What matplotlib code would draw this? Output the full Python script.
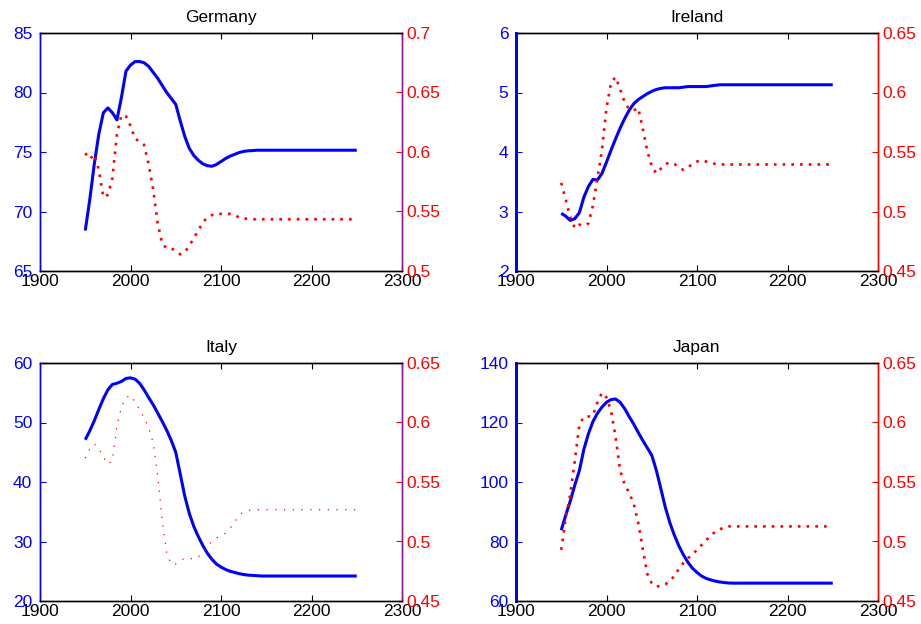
import matplotlib
matplotlib.use("Agg")
import matplotlib.pyplot as plt

plt.rcParams['font.family'] = ['Liberation Sans', 'DejaVu Sans']

years = [1950, 1955, 1960, 1965, 1970, 1975, 1980, 1985, 1990, 1995,
         2000, 2005, 2010, 2015, 2020, 2025, 2030, 2035, 2040, 2045,
         2050, 2055, 2060, 2065, 2070, 2075, 2080, 2085, 2090, 2095,
         2100, 2105, 2110, 2115, 2120, 2125, 2130, 2135, 2140, 2145,
         2150, 2200, 2250]

germany_left = [68.4, 71.0, 74.0, 76.5, 78.3, 78.7, 78.3, 77.7, 79.6, 81.8,
                82.3, 82.6, 82.6, 82.5, 82.2, 81.7, 81.2, 80.6, 80.0, 79.5,
                79.0, 77.6, 76.3, 75.3, 74.7, 74.3, 74.0, 73.85, 73.8, 73.95,
                74.2, 74.45, 74.65, 74.8, 74.95, 75.05, 75.1, 75.12, 75.15, 75.15,
                75.15, 75.15, 75.15]
germany_right = [0.599, 0.594, 0.598, 0.585, 0.562, 0.564, 0.578, 0.615, 0.631, 0.630,
                 0.622, 0.611, 0.609, 0.606, 0.590, 0.569, 0.540, 0.523, 0.519, 0.519,
                 0.517, 0.514, 0.516, 0.521, 0.528, 0.534, 0.541, 0.545, 0.547, 0.548,
                 0.548, 0.548, 0.548, 0.547, 0.545, 0.544, 0.544, 0.5435, 0.5435, 0.5435,
                 0.5435, 0.5435, 0.5435]

ireland_left = [2.97, 2.92, 2.85, 2.88, 2.98, 3.24, 3.42, 3.54, 3.53, 3.64,
                3.83, 4.03, 4.22, 4.40, 4.56, 4.70, 4.81, 4.88, 4.93, 4.98,
                5.02, 5.05, 5.07, 5.08, 5.08, 5.08, 5.08, 5.09, 5.10, 5.10,
                5.10, 5.10, 5.10, 5.11, 5.12, 5.13, 5.13, 5.13, 5.13, 5.13,
                5.13, 5.13, 5.13]
ireland_right = [0.524, 0.510, 0.495, 0.486, 0.489, 0.488, 0.490, 0.505, 0.528, 0.552,
                 0.587, 0.608, 0.613, 0.603, 0.592, 0.586, 0.585, 0.587, 0.570, 0.551,
                 0.538, 0.532, 0.536, 0.540, 0.541, 0.540, 0.537, 0.535, 0.537, 0.540,
                 0.542, 0.543, 0.542, 0.541, 0.540, 0.5395, 0.5395, 0.5395, 0.5395, 0.5395,
                 0.5395, 0.5395, 0.5395]

italy_left = [47.1, 48.6, 50.3, 52.2, 54.0, 55.5, 56.4, 56.6, 56.9, 57.4,
              57.5, 57.3, 56.6, 55.5, 54.2, 53.0, 51.6, 50.2, 48.7, 47.0,
              45.0, 41.3, 37.6, 34.7, 32.5, 30.8, 29.3, 28.0, 27.0, 26.2,
              25.7, 25.3, 25.0, 24.8, 24.6, 24.45, 24.35, 24.3, 24.25, 24.2,
              24.2, 24.2, 24.2]
italy_right = [0.570, 0.578, 0.582, 0.578, 0.571, 0.565, 0.568, 0.597, 0.613, 0.621,
               0.623, 0.617, 0.611, 0.604, 0.596, 0.583, 0.556, 0.518, 0.490, 0.481,
               0.481, 0.484, 0.486, 0.486, 0.485, 0.487, 0.491, 0.496, 0.500, 0.503,
               0.505, 0.507, 0.511, 0.516, 0.522, 0.525, 0.526, 0.5267, 0.5267, 0.5267,
               0.5267, 0.5267, 0.5267]

japan_left = [83.8, 88.9, 93.6, 99.0, 103.8, 111.0, 116.2, 120.3, 123.1, 125.2,
              126.8, 127.7, 127.9, 126.8, 124.7, 122.0, 119.5, 116.7, 114.0, 111.5,
              109.0, 104.0, 97.8, 91.5, 86.3, 82.1, 78.5, 75.5, 73.0, 71.0,
              69.6, 68.4, 67.6, 67.1, 66.7, 66.4, 66.2, 66.05, 66.0, 66.0,
              66.0, 66.0, 66.0]
japan_right = [0.493, 0.520, 0.540, 0.568, 0.598, 0.605, 0.605, 0.606, 0.617, 0.625,
               0.621, 0.610, 0.588, 0.560, 0.548, 0.541, 0.532, 0.516, 0.494, 0.473,
               0.465, 0.462, 0.463, 0.464, 0.467, 0.471, 0.477, 0.482, 0.486, 0.489,
               0.493, 0.497, 0.501, 0.505, 0.508, 0.510, 0.512, 0.5127, 0.5127, 0.5127,
               0.5127, 0.5127, 0.5127]

x_ticks = [1900, 2000, 2100, 2200, 2300]

panels = [
    dict(title="Germany", left=germany_left, right=germany_right,
         lticks=[65, 70, 75, 80, 85], rticks=[0.5, 0.55, 0.6, 0.65, 0.7],
         rlabels=["0.5", "0.55", "0.6", "0.65", "0.7"],
         pos=[40, 33], rspine="#8e1a8a", thin=False, lspine_w=1.0),
    dict(title="Ireland", left=ireland_left, right=ireland_right,
         lticks=[2, 3, 4, 5, 6], rticks=[0.45, 0.5, 0.55, 0.6, 0.65],
         rlabels=["0.45", "0.5", "0.55", "0.6", "0.65"],
         pos=[516, 33], rspine="#ff0000", thin=False, lspine_w=2.0),
    dict(title="Italy", left=italy_left, right=italy_right,
         lticks=[20, 30, 40, 50, 60], rticks=[0.45, 0.5, 0.55, 0.6, 0.65],
         rlabels=["0.45", "0.5", "0.55", "0.6", "0.65"],
         pos=[40, 363], rspine="#8e1a8a", thin=True, lspine_w=1.0),
    dict(title="Japan", left=japan_left, right=japan_right,
         lticks=[60, 80, 100, 120, 140], rticks=[0.45, 0.5, 0.55, 0.6, 0.65],
         rlabels=["0.45", "0.5", "0.55", "0.6", "0.65"],
         pos=[516, 363], rspine="#ff0000", thin=False, lspine_w=2.0),
]

W, H = 921, 624
fig = plt.figure(figsize=(W / 100, H / 100), dpi=100)
aw, ah = 362, 238
fs = 12.5

for p in panels:
    x0, y0 = p["pos"]
    ax = fig.add_axes([x0 / W, 1 - (y0 + ah) / H, aw / W, ah / H])
    ax2 = ax.twinx()
    ax.plot(years, p["left"], color="#0000ff", lw=2.2, solid_capstyle="butt")
    if p["thin"]:
        ax2.plot(years, p["right"], color="#ff0000", lw=0.9, linestyle=(0, (1, 6)))
    else:
        ax2.plot(years, p["right"], color="#ff0000", lw=1.9, linestyle=(0, (1, 2.3)))
    ax.set_xlim(1900, 2300)
    ax.set_xticks(x_ticks)
    ax.set_xticklabels([str(t) for t in x_ticks], fontsize=fs, color="black")
    ax.set_ylim(p["lticks"][0], p["lticks"][-1])
    ax.set_yticks(p["lticks"])
    ax.set_yticklabels([str(t) for t in p["lticks"]], fontsize=fs, color="#0000ff")
    ax2.set_ylim(p["rticks"][0], p["rticks"][-1])
    ax2.set_yticks(p["rticks"])
    ax2.set_yticklabels(p["rlabels"], fontsize=fs, color="#ff0000")
    ax.tick_params(axis="x", direction="in", top=True, length=4, pad=2.0, colors="black")
    ax.tick_params(axis="y", direction="in", length=4, pad=5.5, colors="#0000ff")
    ax2.tick_params(axis="y", direction="in", length=4, pad=3.5, colors="#ff0000")
    for a in (ax, ax2):
        a.spines["top"].set_color("black")
        a.spines["bottom"].set_color("black")
        a.spines["left"].set_color("#0000ff")
        a.spines["right"].set_color(p["rspine"])
        for s in a.spines.values():
            s.set_linewidth(1.0)
        a.spines["left"].set_linewidth(p["lspine_w"])
    ax.set_title(p["title"], fontsize=12.5, pad=8)

fig.savefig("out.png", dpi=100)
